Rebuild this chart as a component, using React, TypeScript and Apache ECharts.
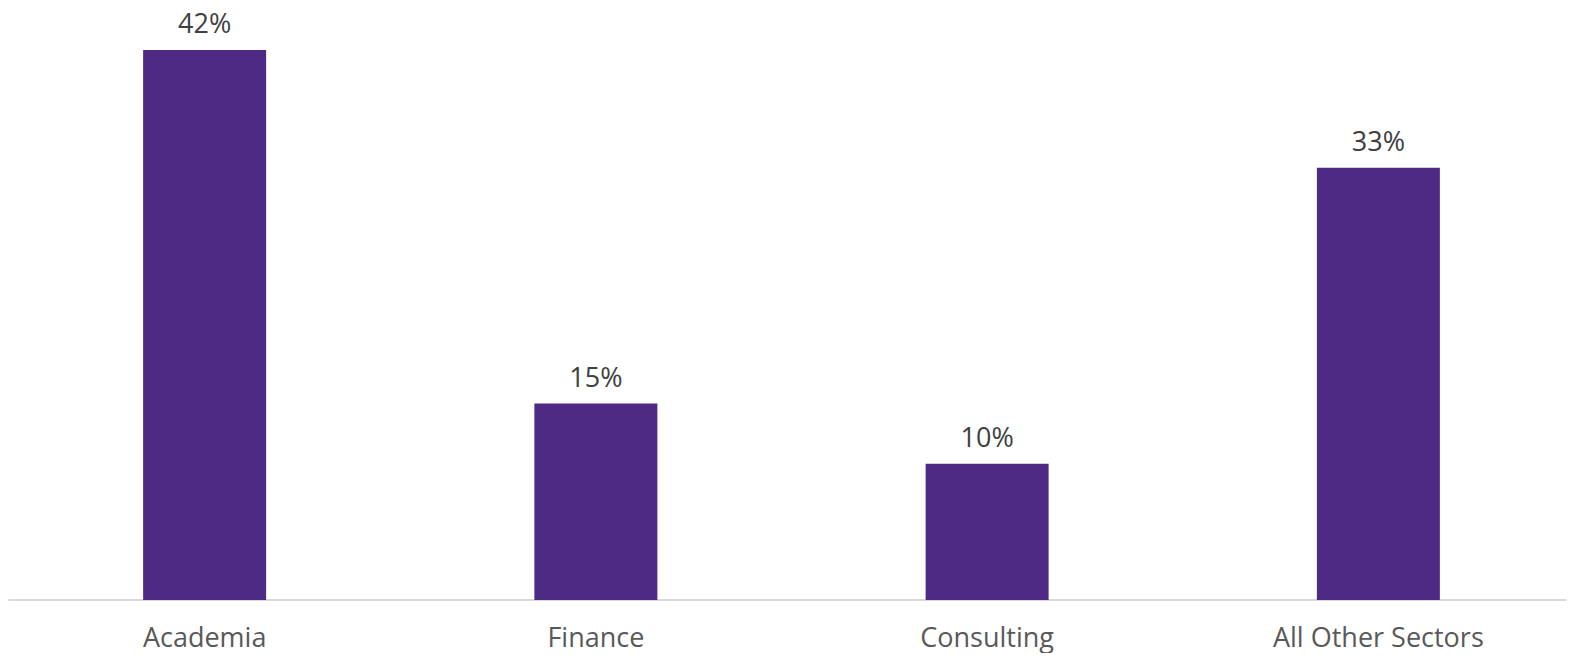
import React, { useEffect, useRef } from "react";
import * as echarts from "echarts";

const categories = ["Academia", "Finance", "Consulting", "All Other Sectors"];
const values = [42, 15, 10.4, 33];
const valueLabels = ["42%", "15%", "10%", "33%"];

export default function App() {
  const ref = useRef<HTMLDivElement>(null);
  useEffect(() => {
    if (!ref.current) return;
    const chart = echarts.init(ref.current, undefined, { renderer: "svg" });
    chart.setOption({
      animation: false,
      grid: { left: 9, width: 1570, top: 50, bottom: 61, containLabel: false },
      xAxis: {
        type: "category",
        data: categories,
        axisLine: { show: true, lineStyle: { color: "#d9d9d9", width: 2 } },
        axisTick: { show: false },
        axisLabel: {
          color: "#595959",
          fontFamily: "Open Sans",
          fontSize: 27,
          margin: 23,
        },
      },
      yAxis: {
        type: "value",
        min: 0,
        max: 42,
        show: false,
        splitLine: { show: false },
      },
      series: [
        {
          type: "bar",
          data: values,
          barWidth: 123,
          itemStyle: { color: "#4e2a84" },
          label: {
            show: true,
            position: "top",
            distance: 14,
            color: "#404040",
            fontFamily: "Open Sans",
            fontSize: 27,
            formatter: (p: any) => valueLabels[p.dataIndex],
          },
        },
      ],
    });
    return () => chart.dispose();
  }, []);
  return (
    <div
      ref={ref}
      style={{ margin: -8, width: 1574, height: 661, background: "#fff" }}
    />
  );
}
